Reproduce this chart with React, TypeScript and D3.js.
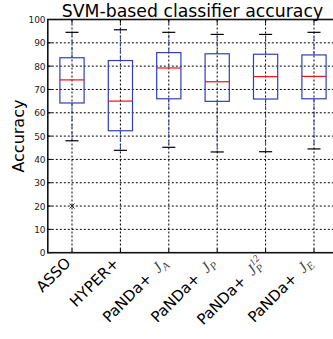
import React from "react";
import * as d3 from "d3";

const categories = ["ASSO", "HYPER+", "PaNDa+ JA", "PaNDa+ JP", "PaNDa+ JP12", "PaNDa+ JE"];
const whiskerLow = [48.0, 43.9, 45.2, 43.2, 43.3, 44.5];
const q1 = [64.2, 52.3, 66.0, 64.9, 65.9, 66.0];
const medians = [74.1, 65.0, 79.2, 73.3, 75.5, 75.6];
const q3 = [83.6, 82.4, 85.8, 85.3, 85.1, 84.8];
const whiskerHigh = [94.5, 95.6, 94.5, 93.6, 93.6, 94.5];
const outlierCat = [0];
const outlierVal = [20.0];
const yTicks = [0, 10, 20, 30, 40, 50, 60, 70, 80, 90, 100];

const W = 333, H = 339;
const left = 47.8, top = 19.5, bottom = 252.7;

export default function App() {
  const x = d3.scaleLinear().domain([0.5, 6.5]).range([left, left + 6 * 48.4]);
  const y = d3.scaleLinear().domain([0, 100]).range([bottom, top]);
  const right = x(6.5);
  const boxHalf = x(1.25) - x(1);
  const capHalf = x(1.135) - x(1);
  const blue = "#2f40b4";

  const mathLabel = (i: number) => {
    const sans = { fontFamily: "DejaVu Sans" };
    const ser = { fontFamily: "Liberation Serif", fontStyle: "italic", fill: "#444" };
    if (i === 0) return <tspan style={sans}>ASSO</tspan>;
    if (i === 1) return <tspan style={sans}>HYPER+</tspan>;
    const pre = <tspan style={sans}>PaNDa+</tspan>;
    const sub = i === 2 ? "A" : i === 5 ? "E" : "P";
    if (i === 4) {
      return (
        <>
          {pre}
          <tspan style={ser} fontSize={16} dx={8}>J</tspan>
          <tspan style={ser} fontSize={11} dy={3}>P</tspan>
          <tspan style={ser} fontSize={10} dx={-6.5} dy={-10}>12</tspan>
          <tspan dy={7} fontSize={1}> </tspan>
        </>
      );
    }
    return (
      <>
        {pre}
        <tspan style={ser} fontSize={16} dx={8}>J</tspan>
        <tspan style={ser} fontSize={11} dy={3}>{sub}</tspan>
      </>
    );
  };

  return (
    <svg width={W} height={H} style={{ position: "absolute", left: 0, top: 0, background: "#fff" }}>
      <rect x={0} y={0} width={W} height={H} fill="#fff" />
      {yTicks.slice(1, -1).map((t) => (
        <line key={"hg" + t} x1={left} x2={right} y1={y(t)} y2={y(t)} stroke="#000" strokeWidth={1} strokeDasharray="2,2" />
      ))}
      {categories.map((c, i) => (
        <line key={"vg" + i} x1={x(i + 1)} x2={x(i + 1)} y1={top} y2={bottom} stroke="#000" strokeWidth={1} strokeDasharray="2,2" />
      ))}
      {categories.map((c, i) => {
        const cx = x(i + 1);
        return (
          <g key={"b" + i}>
            <line x1={cx} x2={cx} y1={y(q3[i])} y2={y(whiskerHigh[i])} stroke={blue} strokeWidth={1} strokeDasharray="4,3" />
            <line x1={cx} x2={cx} y1={y(q1[i])} y2={y(whiskerLow[i])} stroke={blue} strokeWidth={1} strokeDasharray="4,3" />
            <line x1={cx - capHalf} x2={cx + capHalf} y1={y(whiskerHigh[i])} y2={y(whiskerHigh[i])} stroke="#000" strokeWidth={1.2} />
            <line x1={cx - capHalf} x2={cx + capHalf} y1={y(whiskerLow[i])} y2={y(whiskerLow[i])} stroke="#000" strokeWidth={1.2} />
            <rect x={cx - boxHalf} y={y(q3[i])} width={2 * boxHalf} height={y(q1[i]) - y(q3[i])} fill="none" stroke={blue} strokeWidth={1.2} />
            <line x1={cx - boxHalf} x2={cx + boxHalf} y1={y(medians[i])} y2={y(medians[i])} stroke="#ee1111" strokeWidth={1.2} />
          </g>
        );
      })}
      {outlierCat.map((ci, k) => {
        const cx = x(ci + 1), cy = y(outlierVal[k]);
        return (
          <g key={"o" + k} stroke="#223" strokeWidth={1}>
            <line x1={cx - 2.5} x2={cx + 2.5} y1={cy - 2.5} y2={cy + 2.5} />
            <line x1={cx - 2.5} x2={cx + 2.5} y1={cy + 2.5} y2={cy - 2.5} />
          </g>
        );
      })}
      {yTicks.map((t) => (
        <line key={"yt" + t} x1={left} x2={left + 4} y1={y(t)} y2={y(t)} stroke="#000" strokeWidth={1} />
      ))}
      {categories.map((c, i) => (
        <g key={"xt" + i}>
          <line x1={x(i + 1)} x2={x(i + 1)} y1={bottom} y2={bottom - 4} stroke="#000" strokeWidth={1} />
          <line x1={x(i + 1)} x2={x(i + 1)} y1={top} y2={top + 4} stroke="#000" strokeWidth={1} />
        </g>
      ))}
      <rect x={left} y={top} width={right - left} height={bottom - top} fill="none" stroke="#111" strokeWidth={1.6} />
      {yTicks.map((t) => (
        <text key={"yl" + t} x={left - 2.2} y={y(t) + 3.6} textAnchor="end" fontFamily="DejaVu Sans" fontSize={9} fill="#222">
          {t}
        </text>
      ))}
      {categories.map((c, i) => {
        const px = x(i + 1) - 0.5, py = 264;
        return (
          <text key={"xl" + i} x={px} y={py} transform={`rotate(-45 ${px} ${py})`} textAnchor="end" fontSize={15} fill="#000">
            {mathLabel(i)}
          </text>
        );
      })}
      <text x={24} y={(top + bottom) / 2} transform={`rotate(-90 24 ${(top + bottom) / 2})`} textAnchor="middle" fontFamily="DejaVu Sans" fontSize={16} fill="#000">
        Accuracy
      </text>
      <text x={192.5} y={17} textAnchor="middle" fontFamily="DejaVu Sans" fontSize={17.3} fill="#000">
        SVM-based classifier accuracy
      </text>
    </svg>
  );
}
